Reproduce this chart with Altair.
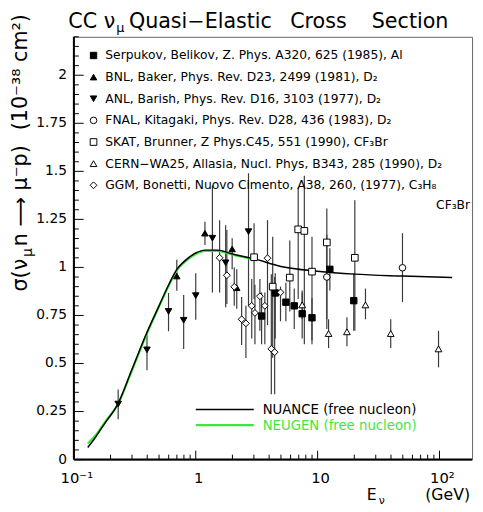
import altair as alt
import pandas as pd

# ---------------- data ----------------
serp_E = [3.47, 4.49, 5.49, 6.43, 7.47, 8.99, 12.6, 19.8]
serp_s = [0.747, 0.867, 0.819, 0.80, 0.759, 0.738, 0.99, 0.827]
serp_lo = [0.60, 0.63, 0.72, 0.68, 0.63, 0.62, 0.88, 0.67]
serp_hi = [0.87, 0.97, 0.92, 0.89, 0.87, 0.84, 1.10, 0.97]

bnl_E = [0.699, 1.19, 1.99, 2.17]
bnl_s = [0.955, 1.178, 1.096, 0.894]
bnl_lo = [0.878, 1.117, 0.99, 0.785]
bnl_hi = [1.04, 1.238, 1.152, 0.99]

anl_E = [0.231, 0.398, 0.598, 0.796, 1.0, 1.37, 1.76, 2.71]
anl_s = [0.289, 0.571, 0.771, 0.725, 0.853, 1.152, 1.024, 1.186]
anl_lo = [0.21, 0.465, 0.668, 0.576, 0.728, 0.87, 0.793, 0.80]
anl_hi = [0.365, 0.665, 0.867, 0.856, 0.969, 1.426, 1.22, 1.49]

fnal_E = [11.9, 49.7]
fnal_s = [0.95, 0.998]
fnal_lo = [0.73, 0.82]
fnal_hi = [1.17, 1.178]

skat_E = [3.01, 4.28, 5.91, 6.93, 7.78, 8.99, 11.9, 20.2]
skat_s = [1.053, 0.90, 0.947, 1.198, 1.19, 0.978, 1.13, 1.05]
skat_lo = [0.836, 0.53, 0.77, 0.836, 0.60, 0.60, 0.68, 0.67]
skat_hi = [1.23, 1.16, 1.14, 1.417, 1.477, 1.16, 1.306, 1.35]

cern_E = [7.47, 12.3, 17.4, 24.7, 39.8, 98.2]
cern_s = [0.805, 0.656, 0.665, 0.805, 0.656, 0.576]
cern_lo = [0.73, 0.58, 0.59, 0.73, 0.58, 0.48]
cern_hi = [0.88, 0.73, 0.74, 0.89, 0.73, 0.67]

ggm_E = [1.57, 1.80, 2.07, 2.38, 2.58, 2.88, 3.06, 3.36, 3.69, 3.88, 4.17, 4.44, 4.96]
ggm_s = [1.05, 0.959, 0.899, 0.73, 0.709, 0.80, 0.763, 0.85, 0.80, 1.048, 0.576, 0.559, 0.87]
ggm_lo = [0.87, 0.81, 0.80, 0.596, 0.528, 0.63, 0.60, 0.67, 0.60, 0.70, 0.34, 0.34, 0.72]
ggm_hi = [1.246, 1.195, 1.00, 0.846, 0.80, 0.94, 0.91, 0.94, 0.87, 1.246, 0.964, 0.95, 0.90]

nuance_E = [0.13, 0.15, 0.18, 0.23, 0.3, 0.4, 0.5, 0.6, 0.7, 0.8, 1.0, 1.2, 1.5, 2.0, 3.0, 5.0, 10, 20, 50, 127]
nuance_s = [0.063, 0.115, 0.19, 0.29, 0.47, 0.665, 0.80, 0.91, 0.99, 1.03, 1.075, 1.09, 1.09, 1.07, 1.045, 1.005, 0.98, 0.965, 0.955, 0.947]
neugen_E = [0.13, 0.15, 0.18, 0.23, 0.3, 0.4, 0.5, 0.6, 0.7, 0.8, 1.0, 1.2, 1.5, 2.0, 3.0]
neugen_s = [0.084, 0.125, 0.195, 0.288, 0.465, 0.66, 0.797, 0.905, 0.985, 1.025, 1.07, 1.086, 1.086, 1.066, 1.042]

exps = ["Serpukov", "BNL", "ANL", "FNAL", "SKAT", "CERN", "GGM"]
labels = [
    "Serpukov, Belikov, Z. Phys. A320, 625 (1985), Al",
    "BNL, Baker, Phys. Rev. D23, 2499 (1981), D₂",
    "ANL, Barish, Phys. Rev. D16, 3103 (1977), D₂",
    "FNAL, Kitagaki, Phys. Rev. D28, 436 (1983), D₂",
    "SKAT, Brunner, Z Phys.C45, 551 (1990), CF₃Br",
    "CERN−WA25, Allasia, Nucl. Phys, B343, 285 (1990), D₂",
    "GGM, Bonetti, Nuovo Cimento, A38, 260, (1977), C₃H₈",
]
shapes = ["square", "triangle-up", "triangle-down", "circle", "square", "triangle-up", "diamond"]
fills = ["black", "black", "black", "white", "white", "white", "white"]
sizes = [42, 48, 48, 60, 55, 55, 24]

x_tick_values = [0.1, 1, 10, 100]
x_tick_text = ["10⁻¹", "1", "10", "10²"]
y_tick_values = [0, 0.25, 0.5, 0.75, 1, 1.25, 1.5, 1.75, 2]
y_tick_text = ["0", "0.25", "0.5", "0.75", "1", "1.25", "1.5", "1.75", "2"]

# ---------------- layout ----------------
FONT = "DejaVu Sans"
W, H = 405, 430
X0, Y0 = 75, 33  # page position of the plot origin


def px(a):
    return a - X0


def py(a):
    return a - Y0


xscale = alt.Scale(type="log", domain=[0.1, 185])
yscale = alt.Scale(domain=[0, 2.2])


def XE(field):
    return alt.X(field, scale=xscale, axis=None)


def YE(field):
    return alt.Y(field, scale=yscale, axis=None)


frames = []
for name, E, s, lo, hi in [
    ("Serpukov", serp_E, serp_s, serp_lo, serp_hi),
    ("BNL", bnl_E, bnl_s, bnl_lo, bnl_hi),
    ("ANL", anl_E, anl_s, anl_lo, anl_hi),
    ("FNAL", fnal_E, fnal_s, fnal_lo, fnal_hi),
    ("SKAT", skat_E, skat_s, skat_lo, skat_hi),
    ("CERN", cern_E, cern_s, cern_lo, cern_hi),
    ("GGM", ggm_E, ggm_s, ggm_lo, ggm_hi),
]:
    frames.append(pd.DataFrame({"exp": name, "E": E, "s": s, "lo": lo, "hi": hi}))
df = pd.concat(frames, ignore_index=True)

shape_scale = alt.Scale(domain=exps, range=shapes)
fill_scale = alt.Scale(domain=exps, range=fills)
size_scale = alt.Scale(domain=exps, range=sizes)

errbars = alt.Chart(df).mark_rule(color="#3a3a3a", strokeWidth=1.2).encode(
    x=XE("E:Q"), y=YE("lo:Q"), y2="hi:Q")

points = alt.Chart(df).mark_point(filled=True, stroke="black", strokeWidth=1, opacity=1).encode(
    x=XE("E:Q"), y=YE("s:Q"),
    shape=alt.Shape("exp:N", scale=shape_scale, legend=None),
    fill=alt.Fill("exp:N", scale=fill_scale, legend=None),
    size=alt.Size("exp:N", scale=size_scale, legend=None),
)

green = "#3de83d"
neugen = alt.Chart(pd.DataFrame({"E": neugen_E, "s": neugen_s})).mark_line(
    color=green, strokeWidth=2.2, interpolate="monotone").encode(x=XE("E:Q"), y=YE("s:Q"))
nuance = alt.Chart(pd.DataFrame({"E": nuance_E, "s": nuance_s})).mark_line(
    color="black", strokeWidth=1.5, interpolate="monotone").encode(x=XE("E:Q"), y=YE("s:Q"))

# ticks (inside the frame)
y_minor = [round(0.05 * i, 2) for i in range(45) if i % 5 != 0]
x_minor = [m * d for d in (0.1, 1, 10) for m in range(2, 10)]

tick_layers = [
    alt.Chart(pd.DataFrame({"v": y_tick_values})).mark_rule(color="black", strokeWidth=1).encode(
        y=YE("v:Q"), x=alt.value(0), x2=alt.value(10)),
    alt.Chart(pd.DataFrame({"v": y_minor})).mark_rule(color="black", strokeWidth=1).encode(
        y=YE("v:Q"), x=alt.value(0), x2=alt.value(5)),
    alt.Chart(pd.DataFrame({"v": x_tick_values})).mark_rule(color="black", strokeWidth=1).encode(
        x=XE("v:Q"), y=alt.value(H), y2=alt.value(H - 9)),
    alt.Chart(pd.DataFrame({"v": x_minor})).mark_rule(color="black", strokeWidth=1).encode(
        x=XE("v:Q"), y=alt.value(H), y2=alt.value(H - 5)),
]

# tick labels
tick_labels = [
    alt.Chart(pd.DataFrame({"v": y_tick_values, "t": y_tick_text})).mark_text(
        align="right", baseline="middle", font=FONT, fontSize=14, color="black").encode(
        y=YE("v:Q"), x=alt.value(px(68)), text="t:N"),
    alt.Chart(pd.DataFrame({"v": x_tick_values, "t": x_tick_text})).mark_text(
        align="center", baseline="alphabetic", font=FONT, fontSize=15, color="black", dx=3).encode(
        x=XE("v:Q"), y=alt.value(py(487)), text="t:N"),
]

one = pd.DataFrame({"a": [0]})
frame_lines = [
    alt.Chart(one).mark_rule(color="black", strokeWidth=2).encode(
        x=alt.value(0), y=alt.value(0), y2=alt.value(H)),
    alt.Chart(one).mark_rule(color="black", strokeWidth=2).encode(
        x=alt.value(0), x2=alt.value(W), y=alt.value(H)),
]

# legend of experiments
leg = pd.DataFrame({"label": labels, "exp": exps, "row": list(range(len(exps)))})
leg_base = alt.Chart(leg).transform_calculate(py="19 + 22 * datum.row")
leg_marks = leg_base.mark_point(filled=True, stroke="black", strokeWidth=1, opacity=1).encode(
    x=alt.value(px(95)),
    y=alt.Y("py:Q", scale=None, axis=None),
    shape=alt.Shape("exp:N", scale=shape_scale, legend=None),
    fill=alt.Fill("exp:N", scale=fill_scale, legend=None),
    size=alt.Size("exp:N", scale=size_scale, legend=None),
)
leg_text = leg_base.mark_text(align="left", baseline="middle", font=FONT, fontSize=12.5,
                              color="black").encode(
    x=alt.value(px(107)), y=alt.Y("py:Q", scale=None, axis=None), text="label:N")


def txt(s, ax, ay, size, align="left", baseline="alphabetic", color="black", angle=0):
    kw = dict(align=align, baseline=baseline, font=FONT, fontSize=size, color=color)
    if angle:
        kw["angle"] = angle
    return alt.Chart(pd.DataFrame({"t": [s]})).mark_text(**kw).encode(
        text="t:N", x=alt.value(px(ax)), y=alt.value(py(ay)))


texts = [
    txt("CF₃Br", 478, 208, 12.5, align="right"),
    # title
    txt("CC ν", 117, 24, 21, align="right"),
    txt("μ", 118, 28, 13),
    txt("Quasi−Elastic", 131, 24, 21),
    txt("Cross", 295, 24, 21),
    txt("Section", 378, 24, 21),
    # x title
    txt("E", 373, 504, 16),
    txt("ν", 385, 508, 11),
    txt("(GeV)", 478, 504, 16, align="right"),
    # y title (rotated, reads bottom to top)
    txt("σ(ν", 27, 292, 21, angle=270),
    txt("μ", 32, 257, 14, angle=270),
    txt("n ⟶ μ⁻p)", 27, 246, 21, angle=270),
    txt("(10⁻³⁸ cm²)", 27, 128, 21, angle=270),
    # model legend
    txt("NUANCE (free nucleon)", 267, 417, 13.5),
    txt("NEUGEN (free nucleon)", 267, 433, 13.5, color=green),
]

model_leg = [
    alt.Chart(one).mark_rule(color="black", strokeWidth=1.5).encode(
        x=alt.value(px(199)), x2=alt.value(px(258)), y=alt.value(py(412))),
    alt.Chart(one).mark_rule(color=green, strokeWidth=2.2).encode(
        x=alt.value(px(199)), x2=alt.value(px(258)), y=alt.value(py(428))),
]

chart = alt.layer(
    errbars, neugen, nuance, points, *tick_layers, *tick_labels, *frame_lines, leg_marks, leg_text,
    *model_leg, *texts
).properties(
    width=W, height=H,
    autosize=alt.AutoSizeParams(type="none"),
    padding={"left": 67, "top": 25, "right": 3, "bottom": 48},
    background="white",
).configure_view(stroke="#666", strokeWidth=1)

chart.save("out.html", embed_options={"renderer": "svg", "actions": False})
